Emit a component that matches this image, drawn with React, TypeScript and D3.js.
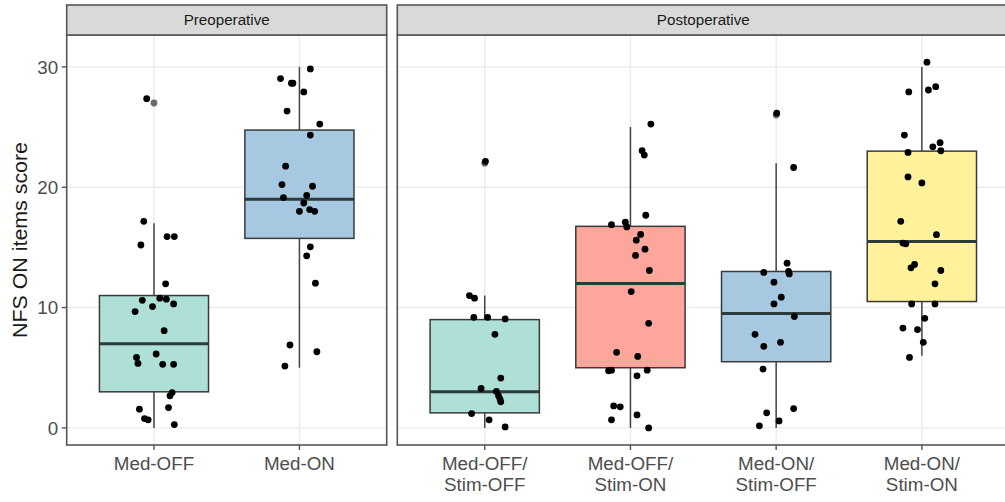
import React from "react";
import * as d3 from "d3";

// ---------- data ----------
const panelTitles = ["Preoperative", "Postoperative"];
const preCategories = ["Med-OFF", "Med-ON"];
const postCategories = ["Med-OFF/Stim-OFF", "Med-OFF/Stim-ON", "Med-ON/Stim-OFF", "Med-ON/Stim-ON"];
const preFills = ["#afe0d8", "#a6c8e0"];
const postFills = ["#afe0d8", "#fca69c", "#a6c8e0", "#fff29a"];

// box statistics per category: [whiskerLow, q1, median, q3, whiskerHigh]
const preBoxStats = [
  [0, 3, 7, 11, 17],
  [5, 15.75, 19, 24.75, 30],
];
const postBoxStats = [
  [0, 1.25, 3, 9, 11],
  [0, 5, 12, 16.75, 25],
  [0, 5.5, 9.5, 13, 22],
  [6, 10.5, 15.5, 23, 30],
];
const preOutliers = [[27], []];
const postOutliers = [[22], [], [26], []];

// jittered observations: values and horizontal jitter (fraction of category step)
const preMedOffValues = [27.36, 17.17, 15.2, 15.9, 15.9, 11.97, 10.6, 9.67, 10.08, 10.78, 10.7, 10.3, 8.08, 5.86, 5.36, 6.14, 5.28, 5.28, 2.94, 2.67, 1.56, 1.69, 0.78, 0.67, 0.28];
const preMedOffJitter = [-0.05, -0.07, -0.09, 0.09, 0.14, 0.08, -0.08, -0.13, -0.01, 0.04, 0.085, 0.135, 0.07, -0.12, -0.11, 0.015, 0.06, 0.135, 0.125, 0.11, -0.1, 0.1, -0.065, -0.04, 0.14];
const preMedOnValues = [29.83, 29.03, 28.64, 28.64, 27.92, 26.33, 25.25, 24.33, 21.75, 20.22, 20.08, 19.14, 19.33, 18.69, 18.0, 18.14, 18.0, 15.05, 14.3, 12.03, 6.89, 6.33, 5.14];
const preMedOnJitter = [0.075, -0.13, -0.055, -0.045, 0.03, -0.085, 0.14, 0.075, -0.095, -0.12, 0.09, -0.11, 0.05, 0.03, 0, 0.07, 0.105, 0.075, 0.05, 0.11, -0.065, 0.12, -0.1];
const postOffOffValues = [22.15, 11.0, 10.78, 9.19, 9.19, 9.06, 7.78, 4.14, 3.28, 3.03, 2.67, 2.4, 2.17, 1.19, 0.67, 0.08];
const postOffOffJitter = [0.005, -0.105, -0.07, -0.075, 0.02, 0.14, 0.07, 0.11, -0.025, 0.08, 0.095, 0.105, 0.11, -0.09, 0.03, 0.14];
const postOffOnValues = [25.25, 23.03, 22.67, 17.67, 16.89, 17.1, 16.7, 16.08, 15.6, 14.85, 14.33, 13.08, 11.33, 8.69, 6.28, 5.94, 4.75, 4.8, 4.8, 4.33, 1.83, 1.75, 0.67, 1.08, 0.0];
const postOffOnJitter = [0.14, 0.08, 0.095, 0.105, -0.13, -0.035, -0.025, 0.07, 0.04, 0.1, 0.035, 0.13, 0.005, 0.125, -0.095, 0.05, -0.15, -0.13, 0.115, 0.045, -0.115, -0.07, -0.13, 0.045, 0.125];
const postOnOffValues = [26.15, 21.64, 13.69, 12.92, 13.0, 12.8, 12.11, 10.86, 10.3, 9.25, 7.78, 7.11, 6.78, 4.89, 1.61, 1.25, 0.58, 0.17];
const postOnOffJitter = [0.004, 0.12, 0.075, -0.085, 0.085, 0.09, -0.015, 0.035, -0.015, 0.125, -0.145, 0.03, -0.085, -0.09, 0.12, -0.065, 0.02, -0.115];
const postOnOnValues = [30.39, 27.92, 28.08, 28.36, 24.33, 23.36, 23.7, 23.03, 22.89, 20.86, 20.36, 17.17, 16.06, 15.36, 15.3, 13.3, 13.58, 13.08, 11.97, 10.3, 10.3, 9.11, 8.3, 8.17, 7.11, 5.86];
const postOnOnJitter = [0.035, -0.09, 0.045, 0.095, -0.12, 0.075, 0.125, 0.13, -0.095, -0.095, 0, -0.145, 0.1, -0.13, -0.11, -0.075, -0.05, 0.13, 0.09, -0.07, 0.09, 0.02, -0.13, -0.03, 0.01, -0.085];

const yTicks = [0, 10, 20, 30];
const yTitle = "NFS ON items score";

const preValues = [preMedOffValues, preMedOnValues];
const preJitter = [preMedOffJitter, preMedOnJitter];
const postValues = [postOffOffValues, postOffOnValues, postOnOffValues, postOnOnValues];
const postJitter = [postOffOffJitter, postOffOnJitter, postOnOffJitter, postOnOnJitter];

// ---------- layout ----------
const W = 1005;
const H = 502;
const panelTop = 35;
const panelBottom = 445;
const stripTop = 5;
const FONT = "'Liberation Sans', Arial, Helvetica, sans-serif";

const y = d3.scaleLinear().domain([-1.42, 32.65]).range([panelBottom, panelTop]);

type PanelProps = {
  title: string;
  cats: string[];
  fills: string[];
  stats: number[][];
  outliers: number[][];
  values: number[][];
  jitter: number[][];
  x0: number;
  x1: number;
};

function Panel({ title, cats, fills, stats, outliers, values, jitter, x0, x1 }: PanelProps) {
  const x = d3.scalePoint<string>().domain(cats).range([x0, x1]).padding(0.6);
  const step = x.step();
  const bw = step * 0.75;
  return (
    <g>
      {/* grid */}
      {yTicks.map((t) => (
        <line key={"gy" + t} x1={x0} x2={x1} y1={y(t)} y2={y(t)} stroke="#ebebeb" strokeWidth={1.4} />
      ))}
      {cats.map((c) => (
        <line key={"gx" + c} x1={x(c)} x2={x(c)} y1={panelTop} y2={panelBottom} stroke="#ebebeb" strokeWidth={1.4} />
      ))}
      {/* boxes */}
      {cats.map((c, i) => {
        const cx = x(c)!;
        const [lo, q1, med, q3, hi] = stats[i];
        return (
          <g key={"b" + c}>
            <line x1={cx} x2={cx} y1={y(q3)} y2={y(hi)} stroke="#444" strokeWidth={1.5} />
            <line x1={cx} x2={cx} y1={y(q1)} y2={y(lo)} stroke="#444" strokeWidth={1.5} />
            <rect x={cx - bw / 2} y={y(q3)} width={bw} height={y(q1) - y(q3)} fill={fills[i]} stroke="#3a3a3a" strokeWidth={1.5} />
            <line x1={cx - bw / 2} x2={cx + bw / 2} y1={y(med)} y2={y(med)} stroke="#2b3a3a" strokeWidth={3} />
            {outliers[i].map((o, k) => (
              <circle key={"o" + k} cx={cx} cy={y(o)} r={3.4} fill="#6a6a6a" />
            ))}
          </g>
        );
      })}
      {/* points */}
      {cats.map((c, i) =>
        values[i].map((v, k) => (
          <circle key={"p" + c + k} cx={x(c)! + jitter[i][k] * step} cy={y(v)} r={3.4} fill="#000" />
        ))
      )}
      {/* panel border */}
      <rect x={x0} y={panelTop} width={x1 - x0} height={panelBottom - panelTop} fill="none" stroke="#555" strokeWidth={1.6} />
      {/* strip */}
      <rect x={x0} y={stripTop} width={x1 - x0} height={panelTop - stripTop} fill="#d9d9d9" stroke="#555" strokeWidth={1.6} />
      <text x={(x0 + Math.min(x1, W)) / 2 + (x1 > W ? (x1 - W) / 2 : 0)} y={(stripTop + panelTop) / 2 + 5.3} textAnchor="middle" fontSize={15.2} fill="#1a1a1a" fontFamily={FONT}>
        {title}
      </text>
      {/* x ticks and labels */}
      {cats.map((c) => {
        const cx = x(c)!;
        const idx = c.indexOf("/");
        const lines = idx >= 0 ? [c.slice(0, idx + 1), c.slice(idx + 1)] : [c];
        return (
          <g key={"xt" + c}>
            <line x1={cx} x2={cx} y1={panelBottom} y2={panelBottom + 5} stroke="#555" strokeWidth={1.4} />
            {lines.map((ln, li) => (
              <text key={li} x={cx} y={470 + li * 21} textAnchor="middle" fontSize={18.8} fill="#4d4d4d" fontFamily={FONT}>
                {ln}
              </text>
            ))}
          </g>
        );
      })}
    </g>
  );
}

export default function App() {
  const leftX0 = 66.7;
  const leftX1 = 386.7;
  const rightX0 = 397.3;
  const rightX1 = 1009.3;
  return (
    <svg width={W} height={H} style={{ position: "absolute", left: 0, top: 0, background: "#fff" }}>
      <rect x={0} y={0} width={W} height={H} fill="#fff" />
      {/* y axis */}
      {yTicks.map((t) => (
        <g key={"yt" + t}>
          <line x1={leftX0 - 5} x2={leftX0} y1={y(t)} y2={y(t)} stroke="#555" strokeWidth={1.4} />
          <text x={leftX0 - 8.5} y={y(t) + 6.7} textAnchor="end" fontSize={18.8} fill="#4d4d4d" fontFamily={FONT}>
            {t}
          </text>
        </g>
      ))}
      <text transform={`translate(27,${(panelTop + panelBottom) / 2}) rotate(-90)`} textAnchor="middle" fontSize={19.5} textLength={196} lengthAdjust="spacingAndGlyphs" fill="#1a1a1a" fontFamily={FONT}>
        {yTitle}
      </text>
      <Panel title={panelTitles[0]} cats={preCategories} fills={preFills} stats={preBoxStats} outliers={preOutliers} values={preValues} jitter={preJitter} x0={leftX0} x1={leftX1} />
      <Panel title={panelTitles[1]} cats={postCategories} fills={postFills} stats={postBoxStats} outliers={postOutliers} values={postValues} jitter={postJitter} x0={rightX0} x1={rightX1} />
    </svg>
  );
}
